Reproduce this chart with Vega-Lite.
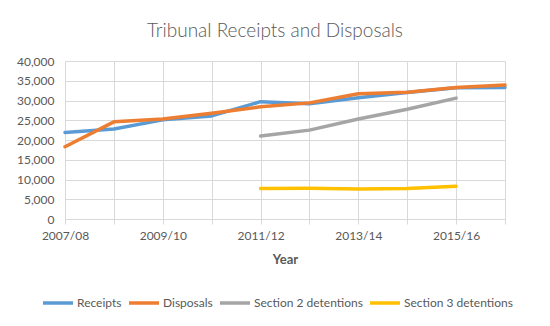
{
  "$schema": "https://vega.github.io/schema/vega-lite/v6.json",
  "width": 440,
  "height": 158,
  "autosize": {"type": "none"},
  "padding": {"left": 65, "top": 61, "right": 45, "bottom": 107},
  "background": "white",
  "title": {
    "text": "Tribunal Receipts and Disposals",
    "font": "Lato",
    "fontSize": 19,
    "fontWeight": 300,
    "color": "#595959",
    "anchor": "middle",
    "dx": -10,
    "offset": 14
  },
  "data": {
    "values": [
      {"Year": "2007/08", "Series": "Receipts", "Value": 21900},
      {"Year": "2008/09", "Series": "Receipts", "Value": 22800},
      {"Year": "2009/10", "Series": "Receipts", "Value": 25100},
      {"Year": "2010/11", "Series": "Receipts", "Value": 26100},
      {"Year": "2011/12", "Series": "Receipts", "Value": 29700},
      {"Year": "2012/13", "Series": "Receipts", "Value": 29200},
      {"Year": "2013/14", "Series": "Receipts", "Value": 30700},
      {"Year": "2014/15", "Series": "Receipts", "Value": 32000},
      {"Year": "2015/16", "Series": "Receipts", "Value": 33200},
      {"Year": "2016/17", "Series": "Receipts", "Value": 33300},
      {"Year": "2007/08", "Series": "Disposals", "Value": 18300},
      {"Year": "2008/09", "Series": "Disposals", "Value": 24600},
      {"Year": "2009/10", "Series": "Disposals", "Value": 25300},
      {"Year": "2010/11", "Series": "Disposals", "Value": 26800},
      {"Year": "2011/12", "Series": "Disposals", "Value": 28400},
      {"Year": "2012/13", "Series": "Disposals", "Value": 29400},
      {"Year": "2013/14", "Series": "Disposals", "Value": 31700},
      {"Year": "2014/15", "Series": "Disposals", "Value": 32100},
      {"Year": "2015/16", "Series": "Disposals", "Value": 33300},
      {"Year": "2016/17", "Series": "Disposals", "Value": 33900},
      {"Year": "2011/12", "Series": "Section 2 detentions", "Value": 21000},
      {"Year": "2012/13", "Series": "Section 2 detentions", "Value": 22500},
      {"Year": "2013/14", "Series": "Section 2 detentions", "Value": 25300},
      {"Year": "2014/15", "Series": "Section 2 detentions", "Value": 27800},
      {"Year": "2015/16", "Series": "Section 2 detentions", "Value": 30600},
      {"Year": "2011/12", "Series": "Section 3 detentions", "Value": 7750},
      {"Year": "2012/13", "Series": "Section 3 detentions", "Value": 7800},
      {"Year": "2013/14", "Series": "Section 3 detentions", "Value": 7600},
      {"Year": "2014/15", "Series": "Section 3 detentions", "Value": 7750},
      {"Year": "2015/16", "Series": "Section 3 detentions", "Value": 8300}
    ]
  },
  "mark": {"type": "line", "strokeWidth": 3.5, "strokeCap": "round", "strokeJoin": "round"},
  "encoding": {
    "x": {
      "field": "Year",
      "type": "ordinal",
      "scale": {"type": "point", "padding": 0},
      "axis": {
        "title": "Year",
        "titleFont": "Lato",
        "titleFontSize": 13,
        "titleFontWeight": "bold",
        "titleColor": "#595959",
        "titlePadding": 12,
        "labelAngle": 0,
        "labelFont": "Lato",
        "labelFontSize": 12,
        "labelColor": "#595959",
        "labelPadding": 6,
        "labelExpr": "test(/^20(07|09|11|13|15)/, datum.value) ? datum.label : ''",
        "domainColor": "#D9D9D9",
        "tickColor": "#D9D9D9",
        "tickSize": 5,
        "grid": true,
        "gridColor": "#D9D9D9"
      }
    },
    "y": {
      "field": "Value",
      "type": "quantitative",
      "scale": {"domain": [0, 40000]},
      "axis": {
        "title": null,
        "values": [0, 5000, 10000, 15000, 20000, 25000, 30000, 35000, 40000],
        "format": ",d",
        "labelFont": "Lato",
        "labelFontSize": 12,
        "labelColor": "#595959",
        "labelPadding": 11,
        "domain": false,
        "ticks": false,
        "grid": true,
        "gridColor": "#D9D9D9"
      }
    },
    "color": {
      "field": "Series",
      "type": "nominal",
      "scale": {
        "domain": ["Receipts", "Disposals", "Section 2 detentions", "Section 3 detentions"],
        "range": ["#5B9BD5", "#ED7D31", "#A5A5A5", "#FFC000"]
      },
      "legend": {
        "title": null,
        "orient": "none",
        "legendX": -24,
        "legendY": 225,
        "direction": "horizontal",
        "symbolType": "stroke",
        "symbolSize": 900,
        "symbolStrokeWidth": 3.5,
        "labelFont": "Lato",
        "labelFontSize": 12,
        "labelColor": "#595959",
        "labelOffset": 2,
        "columnPadding": 0
      }
    }
  },
  "config": {"view": {"stroke": null}}
}
